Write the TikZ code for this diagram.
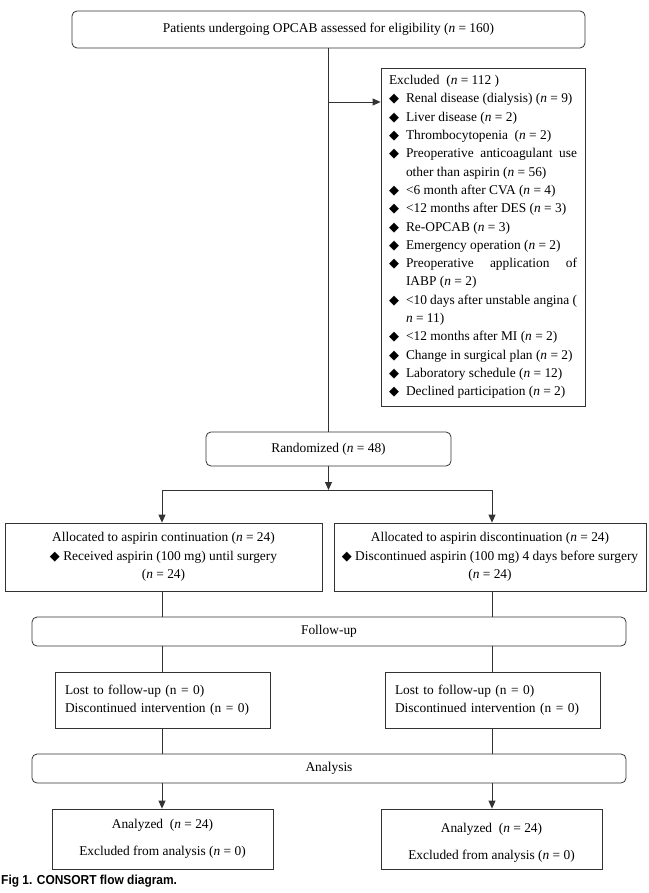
\documentclass[tikz,border=0pt]{standalone}
\usepackage{fontspec}
\setmainfont{Liberation Serif}
\newfontfamily\symfont{DejaVu Sans}
\newfontfamily\capfont[FakeStretch=0.92]{Liberation Sans}
\usetikzlibrary{arrows.meta}
\newcommand{\dmd}{{\symfont\fontsize{13}{13}\selectfont ◆}}
\newcommand{\itm}{\makebox[17pt][l]{\dmd}}
\newcommand{\nn}{\textit{n}}
\newcommand{\fsz}{\fontsize{13.4}{18.3}\selectfont}
\colorlet{lc}{black!80}
\begin{document}
\begin{tikzpicture}[x=1pt,y=-1pt,
  every node/.style={font=\fsz},
  rbox/.style={draw=lc, rounded corners=5pt, line width=0.8pt, inner sep=0pt, align=center},
  sbox/.style={draw=lc, line width=0.8pt, inner sep=0pt, align=center},
  lbox/.style={draw=lc, line width=0.8pt, inner xsep=10pt, inner ysep=0pt, align=left},
  conn/.style={draw=lc, line width=0.8pt},
  arr/.style={conn, -{Triangle[length=8pt,width=7pt]}}]
\useasboundingbox (0,0) rectangle (648,893);

\node[rbox, minimum width=513, minimum height=37] (top) at (328.5,29.5)
  {Patients undergoing OPCAB assessed for eligibility (\nn{} = 160)};

\node[sbox, minimum width=204, minimum height=338, align=left] (excl) at (483,237) {\parbox[c]{188pt}{\fsz\raggedright
Excluded\ \ (\nn{} = 112 )\\
\itm Renal disease (dialysis) (\nn{} = 9)\\
\itm Liver disease (\nn{} = 2)\\
\itm Thrombocytopenia\ \ (\nn{} = 2)\\
\itm\makebox[171pt][s]{Preoperative anticoagulant use}\\
\hspace*{17pt}other than aspirin (\nn{} = 56)\\
\itm <6 month after CVA (\nn{} = 4)\\
\itm <12 months after DES (\nn{} = 3)\\
\itm Re-OPCAB (\nn{} = 3)\\
\itm Emergency operation (\nn{} = 2)\\
\itm\makebox[171pt][s]{Preoperative application of}\\
\hspace*{17pt}IABP (\nn{} = 2)\\
\itm <10 days after unstable angina (\\
\hspace*{17pt}\nn{} = 11)\\
\itm <12 months after MI (\nn{} = 2)\\
\itm Change in surgical plan (\nn{} = 2)\\
\itm Laboratory schedule (\nn{} = 12)\\
\itm Declined participation (\nn{} = 2)}};

\node[rbox, minimum width=245, minimum height=34] (rand) at (328.5,449) {Randomized (\nn{} = 48)};

\node[sbox, minimum width=317, minimum height=68] (allocL) at (163.5,557)
  {Allocated to aspirin continuation (\nn{} = 24)\\ \dmd\ Received aspirin (100 mg) until surgery\\ (\nn{} = 24)};
\node[sbox, minimum width=312, minimum height=68] (allocR) at (490,557)
  {Allocated to aspirin discontinuation (\nn{} = 24)\\ \dmd\ Discontinued aspirin (100 mg) 4 days before surgery\\ (\nn{} = 24)};

\node[rbox, minimum width=594, minimum height=29] (follow) at (329,631.5) {Follow-up};

\node[lbox, text width=195pt, minimum height=56] (lostL) at (162.5,700)
  {Lost to follow-up (n = 0)\\ Discontinued intervention (n = 0)};
\node[lbox, text width=195pt, minimum height=56] (lostR) at (492.5,700)
  {Lost to follow-up (n = 0)\\ Discontinued intervention (n = 0)};

\node[rbox, minimum width=594, minimum height=29] (analysis) at (329,768.5) {Analysis};

\node[sbox, minimum width=221, minimum height=60] (anaL) at (162.5,839)
  {Analyzed\ \ (\nn{} = 24)\\[8.7pt] Excluded from analysis (\nn{} = 0)};
\node[sbox, minimum width=221, minimum height=60] (anaR) at (491.5,839)
  {\rule{0pt}{16pt}Analyzed\ \ (\nn{} = 24)\\[8.7pt] Excluded from analysis (\nn{} = 0)};

\node[anchor=west, inner sep=0pt, font=\capfont\bfseries\fontsize{13}{15}\selectfont] (cap) at (1,881)
  {Fig 1. CONSORT flow diagram.};

\coordinate (ex) at (328.5,102);
\coordinate (cL) at (162,490);
\coordinate (cR) at (492,490);

\draw[conn] (top.south) -- (rand.north);
\draw[arr] (ex) -- (ex -| excl.west);
\draw[arr] (rand.south) -- (rand.south |- cL);
\draw[conn] (cL) -- (cR);
\draw[arr] (cL) -- (cL |- allocL.north);
\draw[arr] (cR) -- (cR |- allocR.north);
\draw[conn] (cL |- allocL.south) -- (cL |- follow.north);
\draw[conn] (cR |- allocR.south) -- (cR |- follow.north);
\draw[conn] (cL |- follow.south) -- (cL |- lostL.north);
\draw[conn] (cR |- follow.south) -- (cR |- lostR.north);
\draw[conn] (cL |- lostL.south) -- (cL |- analysis.north);
\draw[conn] (cR |- lostR.south) -- (cR |- analysis.north);
\draw[arr] (cL |- analysis.south) -- (cL |- anaL.north);
\draw[arr] (cR |- analysis.south) -- (cR |- anaR.north);
\end{tikzpicture}
\end{document}
